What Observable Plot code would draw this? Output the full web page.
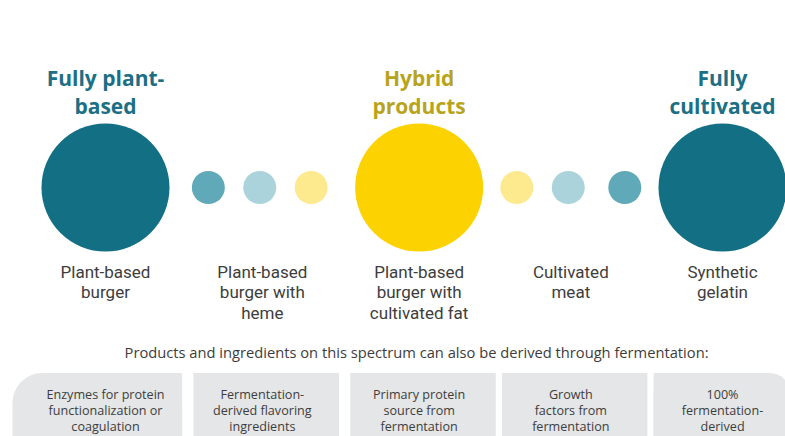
<!DOCTYPE html>
<html>
<head>
<meta charset="utf-8">
<script src="https://cdn.jsdelivr.net/npm/d3@7"></script>
<script src="https://cdn.jsdelivr.net/npm/@observablehq/plot@0.6"></script>
<style>
  html, body { margin: 0; padding: 0; background: #fff; overflow: hidden; }
</style>
</head>
<body>
<div id="chart"></div>
<script>
// ---- Data ----
const circlePositions = [0, 2, 3, 4, 6.1, 8, 9, 10.1, 12];
const circleTones = ["teal", "mid teal", "pale teal", "pale yellow", "yellow", "pale yellow", "pale teal", "mid teal", "teal"];
const circleIsAnchor = [true, false, false, false, true, false, false, false, true];

const headingPositions = [0, 6.1, 12];
const headings = ["Fully plant-\nbased", "Hybrid\nproducts", "Fully\ncultivated"];
const headingTones = ["teal", "mustard", "teal"];

const productPositions = [0, 3.05, 6.1, 9.05, 12];
const products = [
  "Plant-based\nburger",
  "Plant-based\nburger with\nheme",
  "Plant-based\nburger with\ncultivated fat",
  "Cultivated\nmeat",
  "Synthetic\ngelatin"
];

const fermentationNote = "Products and ingredients on this spectrum can also be derived through fermentation:";
const fermentationItems = [
  "Enzymes for protein\nfunctionalization or\ncoagulation",
  "Fermentation-\nderived flavoring\ningredients",
  "Primary protein\nsource from\nfermentation",
  "Growth\nfactors from\nfermentation",
  "100%\nfermentation-\nderived"
];

// ---- Styling / layout ----
const toneColors = {
  "teal": "#136f84",
  "mid teal": "#5fa9b8",
  "pale teal": "#abd3db",
  "pale yellow": "#fde98e",
  "yellow": "#fcd201"
};
const headingColors = {"teal": "#1c6f84", "mustard": "#b8a41c"};
const textColor = "#3d3d3d";
const boxFill = "#e4e6e7";
const font = "'Open Sans', 'Noto Sans', sans-serif";
const labelFont = "Roboto, 'Open Sans', sans-serif";

const circles = circlePositions.map((p, i) => ({pos: p, tone: circleTones[i], anchor: circleIsAnchor[i]}));
const headingRows = headingPositions.map((p, i) => ({pos: p, text: headings[i], tone: headingTones[i]}));
const productRows = productPositions.map((p, i) => ({pos: p, text: products[i]}));
const n = fermentationItems.length;
const boxes = fermentationItems.map((t, i) => {
  const p = productPositions[i];
  return {
    pos: p,
    text: t,
    x1: i === 0 ? -1.8 : p - 1.33,
    x2: i === n - 1 ? 13.32 : p + 1.5
  };
});

const ROW = {heading: 91, circle: 187, label: 263, note: 353, boxTop: 373, boxBottom: 470, boxText: 409};

const plot = Plot.plot({
  width: 785,
  height: 436,
  margin: 0,
  style: {fontFamily: font, background: "#fff"},
  x: {domain: [0, 12], range: [105, 722], axis: null},
  y: {domain: [0, 436], range: [0, 436], axis: null},
  r: {type: "identity"},
  marks: [
    // headings
    Plot.text(headingRows, {
      x: "pos", y: () => ROW.heading, text: "text",
      fill: d => headingColors[d.tone],
      fontSize: 21, fontWeight: "bold", lineHeight: 1.33, lineAnchor: "middle"
    }),
    // circles
    Plot.dot(circles, {
      x: "pos", y: () => ROW.circle,
      r: d => d.anchor ? 64 : 16.5,
      fill: d => toneColors[d.tone], stroke: "none"
    }),
    // product labels
    Plot.text(productRows, {
      x: "pos", y: () => ROW.label, text: "text",
      fill: textColor, fontFamily: labelFont, fontSize: 17, lineHeight: 1.2, lineAnchor: "top"
    }),
    // note
    Plot.text([fermentationNote], {
      x: () => 6.05, y: () => ROW.note, text: d => d,
      fill: textColor, fontSize: 14.7
    }),
    // boxes (first has rounded left end, last has rounded top-right)
    Plot.rect(boxes.filter((d, i) => i === 0), {
      x1: "x1", x2: "x2", y1: () => ROW.boxTop, y2: () => ROW.boxBottom, fill: boxFill, rx: 30
    }),
    Plot.rect(boxes.filter((d, i) => i === n - 1), {
      x1: "x1", x2: "x2", y1: () => ROW.boxTop, y2: () => ROW.boxBottom, fill: boxFill, rx: 20
    }),
    Plot.rect(boxes.filter((d, i) => i === 0), {
      x1: "pos", x2: "x2", y1: () => ROW.boxTop, y2: () => ROW.boxBottom, fill: boxFill
    }),
    Plot.rect(boxes.filter((d, i) => i === n - 1), {
      x1: "x1", x2: "pos", y1: () => ROW.boxTop, y2: () => ROW.boxBottom, fill: boxFill
    }),
    Plot.rect(boxes.filter((d, i) => i > 0 && i < n - 1), {
      x1: "x1", x2: "x2", y1: () => ROW.boxTop, y2: () => ROW.boxBottom, fill: boxFill
    }),
    Plot.text(boxes, {
      x: "pos", y: () => ROW.boxText, text: "text",
      fill: textColor, fontSize: 12.6, lineHeight: 1.27, lineAnchor: "middle"
    })
  ]
});
document.getElementById("chart").appendChild(plot);
</script>
</body>
</html>
